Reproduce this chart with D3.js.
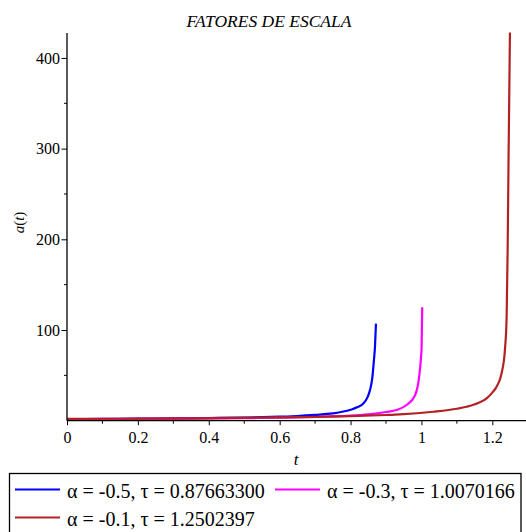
<!DOCTYPE html>
<html>
<head>
<meta charset="utf-8">
<script src="https://cdn.jsdelivr.net/npm/d3@7"></script>
<style>
  body { margin: 0; background: #fff; }
  svg { display: block; }
</style>
</head>
<body>
<svg id="chart" width="526" height="532"></svg>
<script>
// values
var blueT = [0, 0.1, 0.2, 0.3, 0.4, 0.5, 0.6, 0.65, 0.7, 0.75, 0.8, 0.82, 0.836, 0.848, 0.855, 0.861, 0.866, 0.869, 0.8717];
var blueA = [1.8, 2.0, 2.2, 2.5, 2.9, 3.5, 4.5, 5.2, 6.4, 8.0, 12, 15, 19, 26, 34, 46, 67, 82, 107];

var magT = [0, 0.1, 0.2, 0.3, 0.4, 0.5, 0.6, 0.7, 0.75, 0.8, 0.85, 0.9, 0.93, 0.958, 0.982, 0.994, 0.998, 1.0006, 1.0022];
var magA = [1.6, 1.75, 1.9, 2.1, 2.4, 2.8, 3.3, 4.1, 4.7, 5.5, 7.0, 9.6, 11.8, 17.3, 28, 50, 66, 83, 125];

var redT = [0, 0.2, 0.4, 0.6, 0.7, 0.8, 0.9, 0.939, 1.033, 1.1, 1.1275, 1.16, 1.184, 1.2, 1.212, 1.226, 1.2355, 1.2404, 1.2432, 1.246, 1.2497];
var redA = [2.0, 2.3, 2.8, 3.6, 4.2, 5.0, 6.3, 7.0, 9.9, 13.2, 15.4, 19.5, 24.7, 31, 37.5, 52, 78, 115, 188, 298, 428];

var seriesNames = ["α = -0.5, τ = 0.87663300", "α = -0.3, τ = 1.0070166", "α = -0.1, τ = 1.2502397"];
var seriesColors = ["#0000ff", "#ff00ff", "#b22222"];

var xMajor = [0, 0.2, 0.4, 0.6, 0.8, 1, 1.2];
var xMinor = [0.1, 0.3, 0.5, 0.7, 0.9, 1.1];
var yMajor = [100, 200, 300, 400];
var yMinor = [50, 150, 250, 350];

var serif = "'Liberation Serif', 'Times New Roman', serif";

var svg = d3.select("#chart");

var x = d3.scaleLinear().domain([0, 1.295]).range([67, 526]);
var y = d3.scaleLinear().domain([0, 427.5]).range([420.7, 33]);

var series = [
  blueT.map(function (t, i) { return [t, blueA[i]]; }),
  magT.map(function (t, i) { return [t, magA[i]]; }),
  redT.map(function (t, i) { return [t, redA[i]]; })
];

svg.append("clipPath").attr("id", "clip")
  .append("rect").attr("x", 67).attr("y", 30).attr("width", 459).attr("height", 392);

// title
svg.append("text")
  .attr("x", 269).attr("y", 27)
  .attr("text-anchor", "middle")
  .style("font-family", serif)
  .attr("font-style", "italic")
  .attr("font-size", 17.5)
  .text("FATORES DE ESCALA");

// curves
var line = d3.line()
  .x(function (d) { return x(d[0]); })
  .y(function (d) { return y(d[1]); })
  .curve(d3.curveMonotoneX);

svg.append("g").attr("clip-path", "url(#clip)")
  .selectAll("path")
  .data(series)
  .enter()
  .append("path")
  .attr("d", line)
  .attr("fill", "none")
  .attr("stroke", function (d, i) { return seriesColors[i]; })
  .attr("stroke-width", 2.2)
  .attr("stroke-linejoin", "round");

// x axis
var xAxis = svg.append("g").attr("transform", "translate(0," + y(0) + ")");
xAxis.call(d3.axisBottom(x).tickValues(xMajor).tickSize(4.5).tickFormat(d3.format("")));
xAxis.attr("font-family", null).attr("font-size", 16).style("font-family", serif);
xAxis.select(".domain").attr("d", "M" + x(0) + ",0H526");
xAxis.selectAll(".tick text").attr("dy", "0.95em");
xAxis.selectAll(".minor").data(xMinor).enter().append("line")
  .attr("class", "minor")
  .attr("x1", function (d) { return x(d); }).attr("x2", function (d) { return x(d); })
  .attr("y1", 0).attr("y2", 3).attr("stroke", "#000");

// y axis
var yAxis = svg.append("g").attr("transform", "translate(" + x(0) + ",0)");
yAxis.call(d3.axisLeft(y).tickValues(yMajor).tickSize(5.5).tickPadding(1.5));
yAxis.attr("font-family", null).attr("font-size", 16).style("font-family", serif);
yAxis.select(".domain").attr("d", "M0," + y(0) + "V33");
yAxis.selectAll(".minor").data(yMinor).enter().append("line")
  .attr("class", "minor")
  .attr("y1", function (d) { return y(d); }).attr("y2", function (d) { return y(d); })
  .attr("x1", 0).attr("x2", -3).attr("stroke", "#000");

svg.selectAll(".domain").attr("stroke-width", 1.3);

// axis labels
svg.append("text")
  .attr("x", 296).attr("y", 465)
  .attr("text-anchor", "middle")
  .style("font-family", serif)
  .attr("font-style", "italic")
  .attr("font-size", 17)
  .text("t");

var ylab = svg.append("text")
  .attr("transform", "translate(24,222.5) rotate(-90)")
  .attr("text-anchor", "middle")
  .style("font-family", serif)
  .attr("font-size", 15);
ylab.append("tspan").attr("font-style", "italic").text("a");
ylab.append("tspan").text("(");
ylab.append("tspan").attr("font-style", "italic").text("t");
ylab.append("tspan").text(")");

// legend
var legend = svg.append("g");
legend.append("rect")
  .attr("x", 9.5).attr("y", 473.5).attr("width", 511.5).attr("height", 70)
  .attr("fill", "none").attr("stroke", "#000").attr("stroke-width", 1.3);

var legendPos = [[15, 489.5], [275, 489.5], [15, 517.5]];
var items = legend.selectAll(".item").data(seriesNames).enter().append("g")
  .attr("class", "item")
  .attr("transform", function (d, i) { return "translate(" + legendPos[i][0] + "," + legendPos[i][1] + ")"; });
items.append("line")
  .attr("x1", 0).attr("x2", 45).attr("y1", 0).attr("y2", 0)
  .attr("stroke", function (d, i) { return seriesColors[i]; })
  .attr("stroke-width", 2.2);
items.append("text")
  .attr("x", 52).attr("y", 8.5)
  .style("font-family", serif)
  .attr("font-size", 20)
  .text(function (d) { return d; });
</script>
</body>
</html>
